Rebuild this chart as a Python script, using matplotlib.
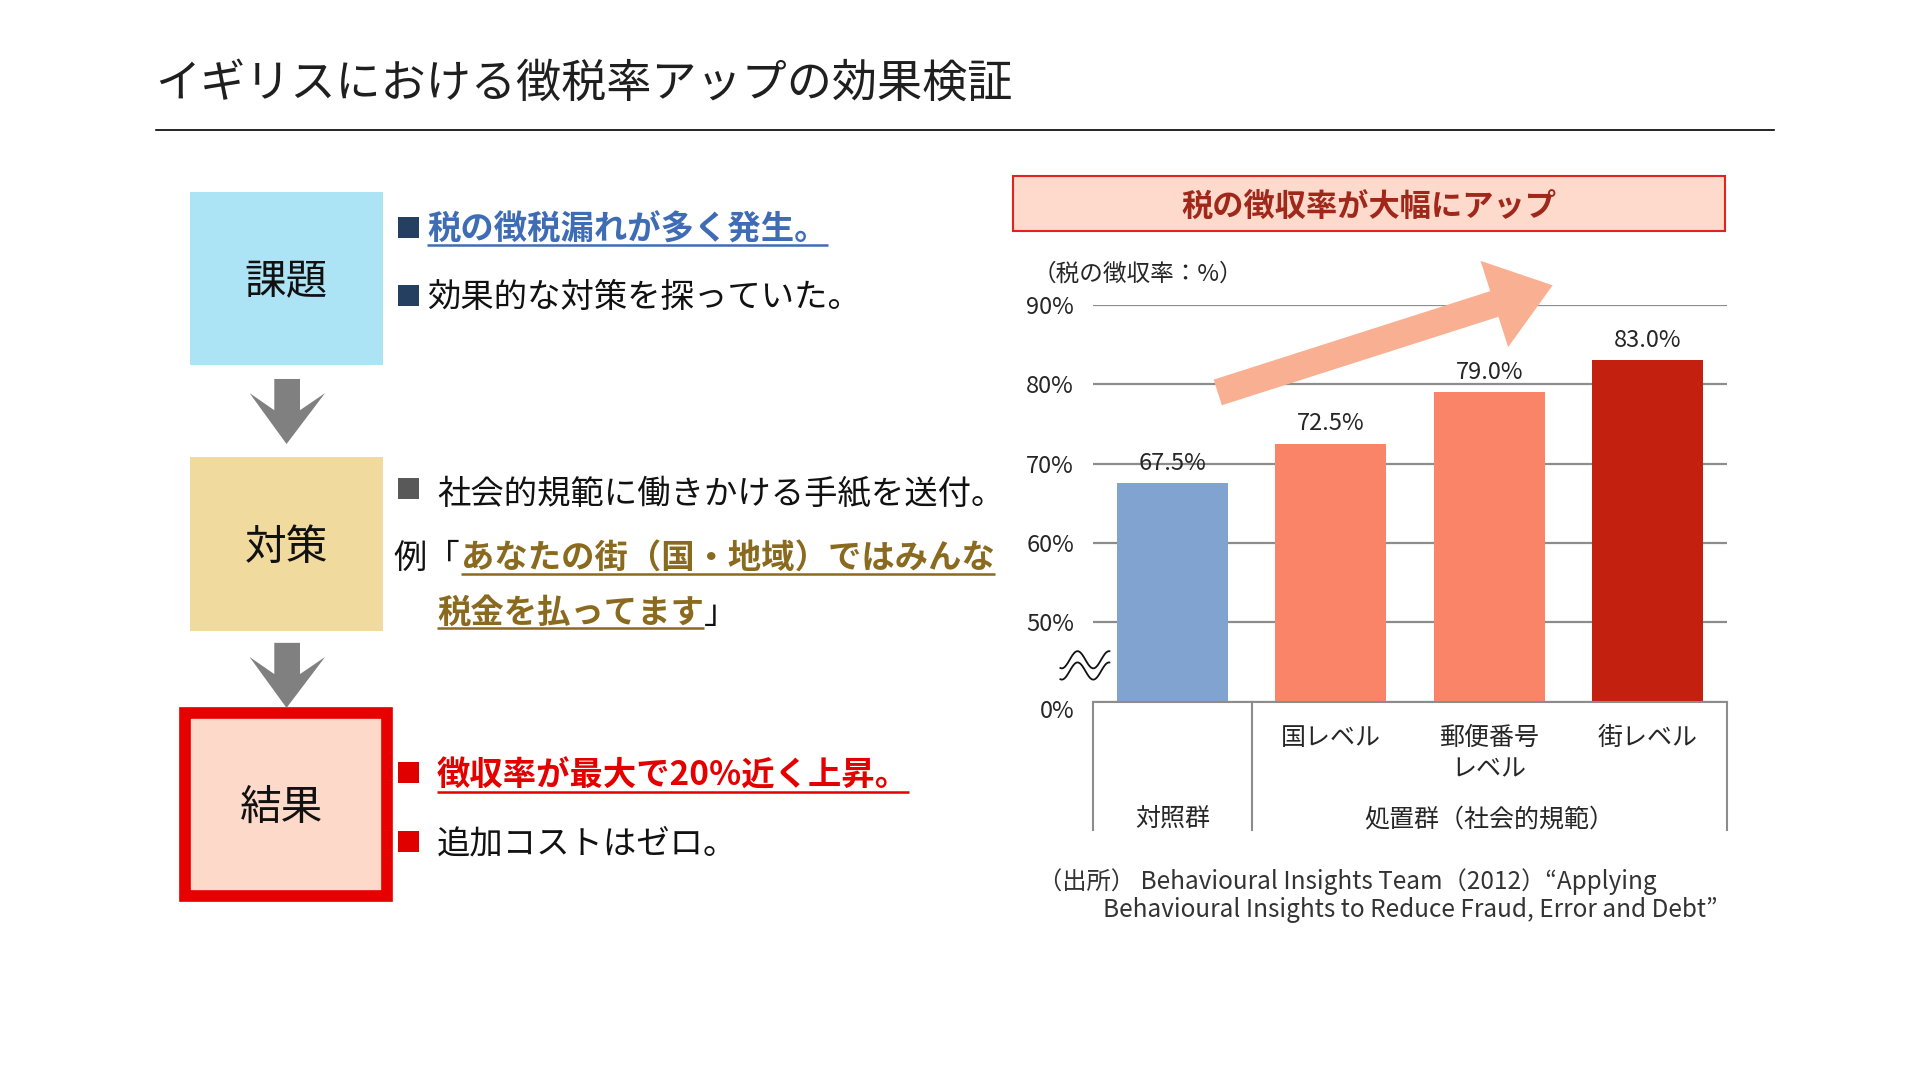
import matplotlib
matplotlib.use('Agg')
import matplotlib.pyplot as plt
from matplotlib.patches import Rectangle, Polygon
from matplotlib.transforms import ScaledTranslation
import numpy as np

plt.rcParams['font.family'] = ['Noto Sans CJK JP', 'DejaVu Sans']

# ---------------- data ----------------
title = 'イギリスにおける徴税率アップの効果検証'
chart_title = '税の徴収率が大幅にアップ'
y_label = '（税の徴収率：%）'
bar_labels = ['', '国レベル', '郵便番号\nレベル', '街レベル']
values = [67.5, 72.5, 79.0, 83.0]
bar_colors = ['#80A3D0', '#FA8468', '#FA8468', '#C42010']
group_labels = ['対照群', '処置群（社会的規範）']
group_centers = [0, 2]
group_bounds = [-0.5, 0.5, 3.5]
tick_values = [40, 50, 60, 70, 80, 90]
tick_labels = ['0%', '50%', '60%', '70%', '80%', '90%']
source_lines = ['（出所） Behavioural Insights Team（2012）“Applying',
                'Behavioural Insights to Reduce Fraud, Error and Debt”']
box_labels = ['課題', '対策', '結果']

# ---------------- figure ----------------
W, H = 1568, 882
fig = plt.figure(figsize=(19.2, 10.8), dpi=100)
fig.patch.set_facecolor('white')


def frac(x0, y0, x1, y1):
    return [x0 / W, 1 - y1 / H, (x1 - x0) / W, (y1 - y0) / H]


GRID = '#8C8C8C'
TXT = '#262626'

# ---------------- bar chart ----------------
ax = fig.add_axes(frac(893, 249, 1410, 573))
x = np.arange(len(values))
ax.bar(x, values, width=0.70, color=bar_colors, zorder=2)
ax.set_xlim(-0.5, 3.5)
ax.set_ylim(40, 90)
ax.set_yticks(tick_values)
ax.set_yticklabels(tick_labels, fontsize=17, color=TXT)
ax.tick_params(axis='y', length=0, pad=14)
ax.set_xticks([])
for s in ['top', 'right', 'left']:
    ax.spines[s].set_visible(False)
ax.spines['bottom'].set_color(GRID)
ax.spines['bottom'].set_linewidth(1.5)
ax.yaxis.grid(True, color=GRID, linewidth=1.6)
ax.set_axisbelow(True)
ax.patch.set_alpha(0)
lab0 = ax.get_yticklabels()[0]
lab0.set_transform(lab0.get_transform() + ScaledTranslation(0, -0.07, fig.dpi_scale_trans))

for xi, v in zip(x, values):
    ax.annotate(f'{v:.1f}%', (xi, v), xytext=(0, 14.5), textcoords='offset points',
                ha='center', va='center', fontsize=17, color=TXT, zorder=3)

trans = ax.get_xaxis_transform()
for xi, lab in zip(x, bar_labels):
    if lab:
        ax.text(xi, -0.058, lab, transform=trans, ha='center', va='top',
                fontsize=18, color=TXT, linespacing=1.3)
for gc, gl in zip(group_centers, group_labels):
    ax.text(gc, -0.296, gl, transform=trans, ha='center', va='center',
            fontsize=18, color=TXT)
for b in group_bounds:
    ax.plot([b, b], [0, -0.324], transform=trans, color=GRID, lw=1.5, clip_on=False)

# ---------------- overlay (slide decorations) ----------------
ov = fig.add_axes([0, 0, 1, 1])
ov.set_xlim(0, W)
ov.set_ylim(H, 0)
ov.axis('off')
ov.patch.set_alpha(0)

DY = 3  # baseline correction for centred CJK text

# title + rule
ov.text(127, 65 + DY, title, fontsize=32.5, ha='left', va='center', color='#1F1F1F')
ov.plot([127, 1449], [106, 106], color='black', lw=1.2)

# left boxes
ov.add_patch(Rectangle((155, 157), 158, 141, fc='#ACE4F6', ec='none'))
ov.add_patch(Rectangle((155, 373), 158, 142, fc='#F1DA9E', ec='none'))
ov.add_patch(Rectangle((151, 582), 165, 149.5, fc='#FCD9C8', ec='#E60000', lw=8.4,
                       joinstyle='miter'))
ov.text(234, 228 + DY, box_labels[0], fontsize=30, ha='center', va='center', color='#111111')
ov.text(234, 445 + DY, box_labels[1], fontsize=30, ha='center', va='center', color='#111111')
ov.text(230, 657 + DY, box_labels[2], fontsize=30, ha='center', va='center', color='#111111')

# down arrows
for dy in (0, 215.5):
    pts = [(224, 309.5), (245, 309.5), (245, 335), (265.5, 321), (234, 362.6),
           (203.8, 321), (224, 335)]
    ov.add_patch(Polygon([(px, py + dy) for px, py in pts], closed=True,
                         fc='#808080', ec='none'))

# bullets
def bullet(yc, color):
    ov.add_patch(Rectangle((325, yc - 8.5), 17.5, 17, fc=color, ec='none'))

NAVY = '#243F60'
bullet(185.5, NAVY)
bullet(241, NAVY)
bullet(399, '#595959')
bullet(631, '#E00000')
bullet(687, '#E00000')

BLUE = '#3E6DB5'
OLIVE = '#8A6A1E'
RED = '#E50000'
FS = 24

t1 = ov.text(349, 185 + DY, '税の徴税漏れが多く発生。', fontsize=FS, fontweight='bold',
             color=BLUE, ha='left', va='center')
ov.text(349, 240 + DY, '効果的な対策を探っていた。', fontsize=FS, color='#111111',
        ha='left', va='center')
ov.text(357, 400 + DY, '社会的規範に働きかける手紙を送付。', fontsize=FS, color='#111111',
        ha='left', va='center')
t3 = ov.text(321, 453 + DY, '例「', fontsize=FS, color='#111111', ha='left', va='center')
t5 = ov.text(357, 498 + DY, '税金を払ってます', fontsize=FS, fontweight='bold',
             color=OLIVE, ha='left', va='center')
t6 = ov.text(357, 631 + DY, '徴収率が最大で20%近く上昇。', fontsize=FS, fontweight='bold',
             color=RED, ha='left', va='center')
ov.text(357, 686 + DY, '追加コストはゼロ。', fontsize=FS, color='#111111',
        ha='left', va='center')

fig.canvas.draw()
renderer = fig.canvas.get_renderer()
inv = ov.transData.inverted()


def extent(t):
    bb = t.get_window_extent(renderer)
    (xa, _), (xb, _) = inv.transform([[bb.x0, bb.y0], [bb.x1, bb.y1]])
    return xa, xb


def underline(t, y, color):
    xa, xb = extent(t)
    ov.plot([xa, xb], [y, y], color=color, lw=1.8, solid_capstyle='butt')
    return xb


_, x3 = extent(t3)
t4 = ov.text(x3 + 1, 453 + DY, 'あなたの街（国・地域）ではみんな', fontsize=FS, fontweight='bold',
             color=OLIVE, ha='left', va='center')
fig.canvas.draw()
renderer = fig.canvas.get_renderer()

underline(t1, 200, BLUE)
underline(t4, 469, OLIVE)
xe = underline(t5, 513, OLIVE)
ov.text(xe, 498 + DY, '」', fontsize=FS, color='#111111', ha='left', va='center')
underline(t6, 646.5, RED)

# chart header box
ov.add_patch(Rectangle((827, 144), 582, 45, fc='#FDDACB', ec='#E2231A', lw=1.5))
ov.text(1118, 166 + DY, chart_title, fontsize=22.5, fontweight='bold', color='#A0281B',
        ha='center', va='center')
ov.text(843, 222 + 2, y_label, fontsize=17, color=TXT, ha='left', va='center')

# big trend arrow
tail = np.array([994.5, 320.5])
tip = np.array([1268.0, 233.0])
u = (tip - tail) / np.linalg.norm(tip - tail)
n = np.array([-u[1], u[0]])
L = np.linalg.norm(tip - tail)
hw, headw, headl = 11, 37, 50
neck = tail + u * (L - headl)
arrow_pts = [tail + n * hw, neck + n * hw, neck + n * headw, tip,
             neck - n * headw, neck - n * hw, tail - n * hw]
ov.add_patch(Polygon(arrow_pts, closed=True, fc='#F9B092', ec='none', zorder=5))

# axis break symbol
xs = np.linspace(866, 906, 80)
for yc in (538.8, 548.0):
    ov.plot(xs, yc - 7 * np.cos(2 * np.pi * (xs - 880) / 25.7), color='#111111', lw=1.3)

# source
ov.text(848, 720, source_lines[0], fontsize=17.5, color='#333333', ha='left', va='center')
ov.text(901, 743, source_lines[1], fontsize=17.5, color='#333333', ha='left', va='center')

fig.savefig('out.png', dpi=100)
